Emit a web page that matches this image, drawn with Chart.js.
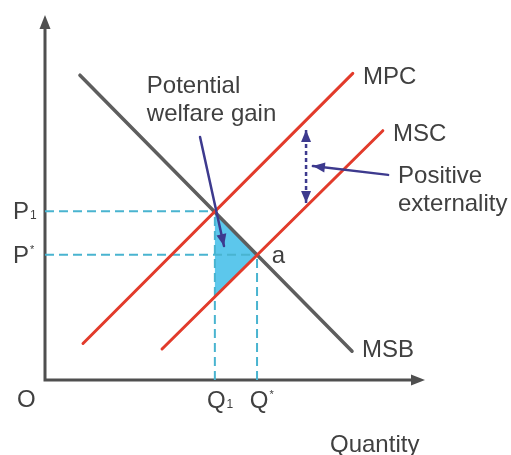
<!DOCTYPE html>
<html><head><meta charset="utf-8">
<script src="https://cdn.jsdelivr.net/npm/chart.js@4/dist/chart.umd.min.js"></script>
<style>html,body{margin:0;padding:0;background:#fff;overflow:hidden}#wrap{width:511px;height:455px;position:relative}</style>
</head><body><div id="wrap"><canvas id="c" width="511" height="455"></canvas></div>
<script>
// ---- data (quantity on x, price on y) ----
const P1 = 4.62, PSTAR = 3.43, Q1 = 4.47, QSTAR = 5.58;
const msbX = [0.92, 8.08], msbY = [8.35, 0.79];
const mpcX = [1.0, 8.1],  mpcY = [1.0, 8.4];
const mscX = [3.08, 8.89], mscY = [0.85, 6.83];
const mscAtQ1 = 2.28;
const welfareArrowX = [4.08, 4.71], welfareArrowY = [6.66, 3.67];
const extArrowX = [9.03, 7.05],     extArrowY = [5.62, 5.86];
const gapArrowX = [6.87, 6.87],     gapArrowY = [6.85, 4.85];
const axisMax = 10;

const pts = (xs, ys) => xs.map((x, i) => ({x: x, y: ys[i]}));

const RED = '#e23b2b', GREY = '#5e5e5e', CYAN = '#49b4d0', NAVY = '#3d3a8e', TXT = '#404040';
const FONT = '"Liberation Sans", Arial, sans-serif';

const labels = [
  {t:'Potential', x:2.68, y:7.86},
  {t:'welfare gain', x:2.68, y:7.10},
  {t:'MPC', x:8.37, y:8.11},
  {t:'MSC', x:9.16, y:6.55},
  {t:'Positive', x:9.29, y:5.40},
  {t:'externality', x:9.29, y:4.63},
  {t:'MSB', x:8.34, y:0.63},
  {t:'a', x:5.97, y:3.21},
  {t:'P', x:-0.84, y:4.41, sub:'1'},
  {t:'P', x:-0.84, y:3.20, sup:'*'},
  {t:'O', x:-0.74, y:-0.74},
  {t:'Q', x:4.26, y:-0.77, sub:'1'},
  {t:'Q', x:5.39, y:-0.77, sup:'*'},
  {t:'Quantity', x:7.5, y:-1.97}
];

function arrowHead(ctx, x0, y0, x1, y1, len, half, color) {
  const a = Math.atan2(y1 - y0, x1 - x0);
  ctx.save();
  ctx.fillStyle = color;
  ctx.beginPath();
  ctx.moveTo(x1, y1);
  ctx.lineTo(x1 - len*Math.cos(a) + half*Math.sin(a), y1 - len*Math.sin(a) - half*Math.cos(a));
  ctx.lineTo(x1 - len*Math.cos(a) - half*Math.sin(a), y1 - len*Math.sin(a) + half*Math.cos(a));
  ctx.closePath();
  ctx.fill();
  ctx.restore();
}

const decor = {
  id: 'decor',
  beforeDatasetsDraw(chart) {
    const {ctx, scales:{x, y}} = chart;
    const ox = x.getPixelForValue(0), oy = y.getPixelForValue(0);
    const tx = x.getPixelForValue(axisMax), ty = y.getPixelForValue(axisMax);
    ctx.save();
    ctx.strokeStyle = '#4f4f4f'; ctx.lineWidth = 3; ctx.lineCap = 'square';
    ctx.beginPath();
    ctx.moveTo(ox, ty + 8); ctx.lineTo(ox, oy); ctx.lineTo(tx - 8, oy);
    ctx.stroke();
    ctx.restore();
    arrowHead(ctx, ox, oy, ox, ty, 14, 5.5, '#4f4f4f');
    arrowHead(ctx, ox, oy, tx, oy, 14, 5.5, '#4f4f4f');
  },
  afterDatasetsDraw(chart) {
    const {ctx, scales:{x, y}} = chart;
    chart.data.datasets.forEach((ds, i) => {
      if (!ds.arrows) return;
      const d = ds.data, n = d.length;
      const px = p => [x.getPixelForValue(p.x), y.getPixelForValue(p.y)];
      if (ds.arrows.includes('end')) {
        const a = px(d[n-2]), b = px(d[n-1]);
        arrowHead(ctx, a[0], a[1], b[0], b[1], 12, 5, ds.borderColor);
      }
      if (ds.arrows.includes('start')) {
        const a = px(d[1]), b = px(d[0]);
        arrowHead(ctx, a[0], a[1], b[0], b[1], 12, 5, ds.borderColor);
      }
    });
    ctx.save();
    ctx.fillStyle = TXT;
    ctx.textBaseline = 'alphabetic';
    ctx.textAlign = 'left';
    labels.forEach(l => {
      const lx = x.getPixelForValue(l.x), ly = y.getPixelForValue(l.y);
      ctx.font = '24px ' + FONT;
      ctx.fillText(l.t, lx, ly);
      const w = ctx.measureText(l.t).width;
      if (l.sub) { ctx.font = '12px ' + FONT; ctx.fillText(l.sub, lx + w + 1, ly); }
      if (l.sup) { ctx.font = '11px ' + FONT; ctx.fillText(l.sup, lx + w + 1, ly - 10); }
    });
    ctx.restore();
  }
};

const lineDs = (data, color, width, extra) => Object.assign({
  data: data, showLine: true, borderColor: color, backgroundColor: color,
  borderWidth: width, pointRadius: 0, pointHoverRadius: 0, fill: false, clip: false,
  borderCapStyle: 'round', tension: 0
}, extra || {});

new Chart(document.getElementById('c'), {
  type: 'scatter',
  data: {
    datasets: [
      lineDs(pts(welfareArrowX, welfareArrowY), NAVY, 2.5, {order: 0, arrows: ['end']}),
      lineDs(pts(extArrowX, extArrowY), NAVY, 2.5, {order: 0, arrows: ['end']}),
      lineDs(pts(gapArrowX, gapArrowY), NAVY, 2.5, {order: 0, arrows: ['start','end'], borderDash: [4, 3], borderCapStyle: 'butt'}),
      lineDs(pts(mpcX, mpcY), RED, 3, {order: 1}),
      lineDs(pts(mscX, mscY), RED, 3, {order: 1}),
      lineDs(pts(msbX, msbY), GREY, 3.5, {order: 1}),
      lineDs([{x:0, y:P1}, {x:Q1, y:P1}], CYAN, 2, {order: 3, borderDash: [9, 5], borderCapStyle: 'butt'}),
      lineDs([{x:0, y:PSTAR}, {x:QSTAR, y:PSTAR}], CYAN, 2, {order: 3, borderDash: [9, 5], borderCapStyle: 'butt'}),
      lineDs([{x:Q1, y:0}, {x:Q1, y:P1}], CYAN, 2, {order: 3, borderDash: [9, 5], borderCapStyle: 'butt'}),
      lineDs([{x:QSTAR, y:0}, {x:QSTAR, y:PSTAR}], CYAN, 2, {order: 3, borderDash: [9, 5], borderCapStyle: 'butt'}),
      lineDs([{x:Q1, y:P1}, {x:Q1, y:mscAtQ1}, {x:QSTAR, y:PSTAR}, {x:Q1, y:P1}], 'rgba(0,0,0,0)', 0,
        {order: 4, fill: 'shape', backgroundColor: '#5cc7ec'})
    ]
  },
  options: {
    responsive: false, animation: false, devicePixelRatio: 1,
    layout: {padding: {left: 45, right: 86, top: 15, bottom: 75}},
    scales: {
      x: {type: 'linear', min: 0, max: axisMax, display: false},
      y: {type: 'linear', min: 0, max: axisMax, display: false}
    },
    plugins: {legend: {display: false}, tooltip: {enabled: false}}
  },
  plugins: [decor]
});
</script>
</body></html>
